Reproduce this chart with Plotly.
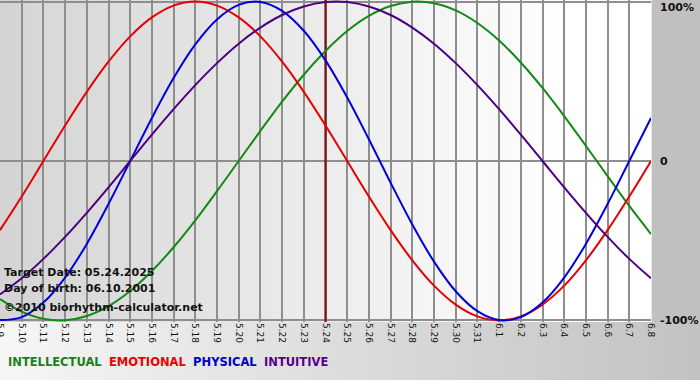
import plotly.graph_objects as go

dates = ["5.9", "5.10", "5.11", "5.12", "5.13", "5.14", "5.15", "5.16", "5.17", "5.18",
         "5.19", "5.20", "5.21", "5.22", "5.23", "5.24", "5.25", "5.26", "5.27", "5.28",
         "5.29", "5.30", "5.31", "6.1", "6.2", "6.3", "6.4", "6.5", "6.6", "6.7", "6.8"]

intellectual = [-0.866, -0.945, -0.990, -0.999, -0.972, -0.910, -0.815, -0.690, -0.541, -0.372,
                -0.189, 0.0, 0.189, 0.372, 0.541, 0.690, 0.815, 0.910, 0.972, 0.999,
                0.990, 0.945, 0.866, 0.756, 0.618, 0.458, 0.282, 0.095, -0.095, -0.282, -0.458]

emotional = [-0.434, -0.223, 0.0, 0.223, 0.434, 0.623, 0.782, 0.901, 0.975, 1.0,
             0.975, 0.901, 0.782, 0.623, 0.434, 0.223, 0.0, -0.223, -0.434, -0.623,
             -0.782, -0.901, -0.975, -1.0, -0.975, -0.901, -0.782, -0.623, -0.434, -0.223, 0.0]

physical = [-0.998, -0.979, -0.888, -0.731, -0.520, -0.270, 0.0, 0.270, 0.520, 0.731,
            0.888, 0.979, 0.998, 0.942, 0.817, 0.631, 0.398, 0.136, -0.136, -0.398,
            -0.631, -0.817, -0.942, -0.998, -0.979, -0.888, -0.731, -0.520, -0.270, 0.0, 0.270]

intuitive = [-0.837, -0.736, -0.614, -0.476, -0.325, -0.165, 0.0, 0.165, 0.325, 0.476,
             0.614, 0.736, 0.837, 0.916, 0.969, 0.997, 0.997, 0.969, 0.916, 0.837,
             0.736, 0.614, 0.476, 0.325, 0.165, 0.0, -0.165, -0.325, -0.476, -0.614, -0.736]

target_date = "5.24"
info_lines = ["Target Date: 05.24.2025", "Day of birth: 06.10.2001", "\u00a92010 biorhythm-calculator.net"]
y_tick_labels = ["100%", "0", "-100%"]

series = [
    ("INTELLECTUAL", intellectual, "#138a13"),
    ("EMOTIONAL", emotional, "#e80000"),
    ("PHYSICAL", physical, "#0000dd"),
    ("INTUITIVE", intuitive, "#4b0082"),
]
legend_colors = ["#1a7f1a", "#f00000", "#0000cc", "#56008c"]

FONT = "DejaVu Sans"
W, H = 700, 380
ML, MR, MT, MB = 0, 49, 0, 58
plot_w = W - ML - MR
plot_h = H - MT - MB
Y_RANGE = [-1.01, 1.01]

fig = go.Figure()

# target date marker line (drawn first so the curves pass over it)
fig.add_trace(go.Scatter(x=[target_date, target_date], y=Y_RANGE, mode="lines",
                         line=dict(color="#7a1212", width=2.2),
                         hoverinfo="skip", showlegend=False))

for name, vals, col in series:
    fig.add_trace(go.Scatter(x=dates, y=vals, mode="lines", name=name,
                             line=dict(color=col, width=2, shape="spline", smoothing=1.0),
                             hoverinfo="skip", showlegend=False))

shapes = []
# plot-area gradient (gray left -> white right)
N = 60
for i in range(N):
    t = (i + 0.5) / N
    v = int(round(212 + (255 - 212) * min(1.0, t * 1.15)))
    shapes.append(dict(type="rect", xref="paper", yref="paper",
                       x0=i / N, x1=(i + 1) / N + 0.001, y0=0, y1=1,
                       fillcolor=f"rgb({v},{v},{v})", line=dict(width=0), layer="below"))
# bottom band gradient (light left -> gray right)
xr = W / plot_w
for i in range(N):
    t = (i + 0.5) / N
    v = int(round(246 - (246 - 194) * t))
    shapes.append(dict(type="rect", xref="paper", yref="paper",
                       x0=xr * i / N, x1=xr * (i + 1) / N + 0.002,
                       y0=-MB / plot_h, y1=0,
                       fillcolor=f"rgb({v},{v},{v})", line=dict(width=0), layer="below"))

annotations = []
tick_ys = [1.0, 0.0, -1.0]
for lab, yv in zip(y_tick_labels, tick_ys):
    annotations.append(dict(xref="paper", yref="y", x=1, y=yv, text=f"<b>{lab}</b>",
                            xanchor="left", yanchor="middle", xshift=7,
                            yshift=-6 if yv == 1.0 else 0,
                            showarrow=False, font=dict(family=FONT, size=11, color="#111")))
for k, line in enumerate(info_lines):
    annotations.append(dict(xref="paper", yref="paper", x=0, y=(plot_h - [272, 288, 307][k]) / plot_h,
                            text=f"<b>{line}</b>", xanchor="left", yanchor="middle", xshift=2,
                            showarrow=False, font=dict(family=FONT, size=11, color="#111")))
legend_html = "  ".join(f"<span style='color:{c}'><b>{n}</b></span>"
                        for (n, _, _), c in zip(series, legend_colors))
annotations.append(dict(xref="paper", yref="paper", x=0, y=(plot_h - 362) / plot_h,
                        text=legend_html, xanchor="left", yanchor="middle", xshift=6,
                        showarrow=False, font=dict(family=FONT, size=11.5)))

fig.update_layout(
    width=W, height=H,
    margin=dict(l=ML, r=MR, t=MT, b=MB, pad=0),
    paper_bgcolor="#c0c0c0",
    plot_bgcolor="rgba(0,0,0,0)",
    shapes=shapes,
    annotations=annotations,
    xaxis=dict(type="category", categoryorder="array", categoryarray=dates,
               range=[0, len(dates) - 1], showgrid=True, gridcolor="#8e8e8e", gridwidth=2,
               tickangle=90, tickfont=dict(family=FONT, size=9, color="#111"),
               ticks="", zeroline=False, automargin=False, ticklabeloverflow="allow",
               showline=False, fixedrange=True),
    yaxis=dict(range=Y_RANGE, tickvals=tick_ys, showticklabels=False,
               showgrid=True, gridcolor="#8e8e8e", gridwidth=2, zeroline=False,
               automargin=False, fixedrange=True),
)

fig.write_html("out.html", config={"displayModeBar": False, "staticPlot": True},
               post_script="document.body.style.margin='0';document.body.style.overflow='hidden';")
